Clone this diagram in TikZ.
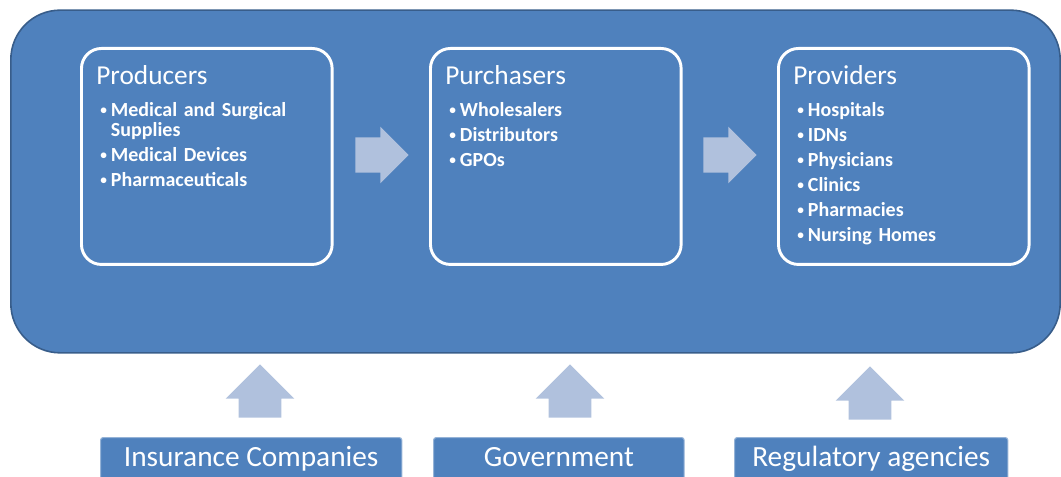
\documentclass[tikz,border=0pt]{standalone}
\usepackage{fontspec}
\setmainfont{Carlito}
\usetikzlibrary{shapes.arrows,positioning,calc}

\definecolor{boxblue}{RGB}{79,129,189}
\definecolor{edgeblue}{RGB}{56,93,138}
\definecolor{arrowblue}{RGB}{176,193,221}

% Title line of a panel
\newcommand{\paneltitle}[1]{{\fontsize{20.5}{22}\selectfont #1}\par\vspace{9pt}}

% List with small bullets for the panels
\newcommand{\smallbullet}{\raisebox{1.2pt}{\fontsize{10}{10}\selectfont\textbullet}}
\newenvironment{itemlist}{\begin{list}{\smallbullet}{%
  \setlength{\leftmargin}{11pt}\setlength{\labelwidth}{8pt}%
  \setlength{\labelsep}{3pt}\setlength{\itemsep}{3.75pt}%
  \setlength{\topsep}{0pt}\setlength{\parsep}{0pt}%
  \setlength{\partopsep}{0pt}}\raggedright\bfseries}{\end{list}}

\tikzset{
  frame/.style={draw=edgeblue, line width=1.2pt, fill=boxblue, rounded corners=37pt,
    minimum width=787pt, minimum height=257pt},
  panel/.style={draw=white, line width=2.2pt, rounded corners=15pt,
    minimum width=188pt, minimum height=162pt, anchor=north west},
  paneltext/.style={text=white, text width=170pt, align=left, inner sep=0pt,
    anchor=north west, font=\fontsize{15}{15}\selectfont},
  flowarrow/.style={single arrow, fill=arrowblue, inner xsep=0pt, inner ysep=13.1pt,
    minimum height=40pt, single arrow head extend=7.9pt, anchor=tail},
  liftarrow/.style={single arrow, fill=arrowblue, inner xsep=0pt, inner ysep=15.75pt,
    minimum height=40pt, single arrow head extend=9.75pt, rotate=90, anchor=tail},
  source/.style={draw=boxblue!60!white, line width=0.8pt, fill=boxblue, rounded corners=2pt,
    text=white, font=\fontsize{22}{24}\selectfont, minimum height=32.5pt,
    text height=15pt, text depth=4pt, anchor=north west}
}

\begin{document}
\begin{tikzpicture}[x=0.75pt,y=-0.75pt]

  % Fix the page size
  \useasboundingbox (0,0) rectangle (1061,477);

  % Draw the outer frame
  \node[frame] (frame) at (535.5,181.5) {};

  % Draw the three panels
  \node[panel] (prod) at (80,47) {};
  \node[panel] (purch) at (429,47) {};
  \node[panel] (prov) at (777,47) {};

  % Add the texts of the panels
  \node[paneltext] (prodtext) at (96,65) {\paneltitle{Producers}
    \begin{itemlist}
      \item Medical and Surgical Supplies
      \item Medical Devices
      \item Pharmaceuticals
    \end{itemlist}};
  \node[paneltext] (purchtext) at (445,65) {\paneltitle{Purchasers}
    \begin{itemlist}
      \item Wholesalers
      \item Distributors
      \item GPOs
    \end{itemlist}};
  \node[paneltext] (provtext) at (793,65) {\paneltitle{Providers}
    \begin{itemlist}
      \item Hospitals
      \item IDNs
      \item Physicians
      \item Clinics
      \item Pharmacies
      \item Nursing Homes
    \end{itemlist}};

  % Draw the arrows between the panels
  \node[flowarrow] (flow1) at (355,155) {};
  \node[flowarrow] (flow2) at (703,155) {};

  % Draw the boxes at the bottom
  \node[source, minimum width=226pt] (ins) at (100,437) {Insurance Companies};
  \node[source, minimum width=188pt] (gov) at (433,437) {Government};
  \node[source, minimum width=205pt] (reg) at (734,437) {Regulatory agencies};

  % Draw the arrows up to the frame
  \node[liftarrow] (lift1) at (260,418) {};
  \node[liftarrow] (lift2) at (570,418) {};
  \node[liftarrow] (lift3) at (870,420) {};

\end{tikzpicture}
\end{document}
